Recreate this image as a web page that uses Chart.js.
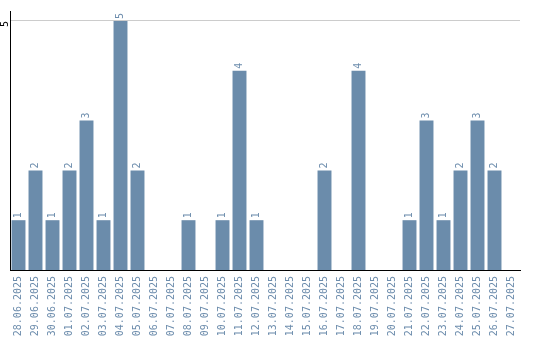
<!DOCTYPE html>
<html>
<head>
<meta charset="utf-8">
<script src="https://cdn.jsdelivr.net/npm/chart.js@4.4.1/dist/chart.umd.min.js"></script>
<style>
  body { margin: 0; background: #fff; }
</style>
</head>
<body>
<canvas id="myChart1" width="540" height="340"></canvas>
<script>
// days shown on the x axis
const dayLabels = [
    '28.06.2025', '29.06.2025', '30.06.2025', '01.07.2025', '02.07.2025',
    '03.07.2025', '04.07.2025', '05.07.2025', '06.07.2025', '07.07.2025',
    '08.07.2025', '09.07.2025', '10.07.2025', '11.07.2025', '12.07.2025',
    '13.07.2025', '14.07.2025', '15.07.2025', '16.07.2025', '17.07.2025',
    '18.07.2025', '19.07.2025', '20.07.2025', '21.07.2025', '22.07.2025',
    '23.07.2025', '24.07.2025', '25.07.2025', '26.07.2025', '27.07.2025'
];
// count per day
const dayCounts = [1, 2, 1, 2, 3, 1, 5, 2, 0, 0,
                   1, 0, 1, 4, 1, 0, 0, 0, 2, 0,
                   4, 0, 0, 1, 3, 1, 2, 3, 2, 0];
const yTicks = [5];

const barColor = 'rgb(107, 140, 171)';
const textColor = 'rgb(108, 140, 172)';
const fontFamily = '"DejaVu Sans Mono", monospace';

// writes the value above every bar, turned on its side
const valueLabels = {
    id: 'valueLabels',
    afterDatasetsDraw(chart) {
        let ctx = chart.ctx;
        let meta = chart.getDatasetMeta(0);
        ctx.save();
        ctx.font = '10px ' + fontFamily;
        ctx.fillStyle = textColor;
        ctx.textAlign = 'left';
        ctx.textBaseline = 'middle';
        meta.data.forEach(function (bar, i) {
            let v = dayCounts[i];
            if (!v) return;
            ctx.save();
            ctx.translate(bar.x, bar.y - 2);
            ctx.rotate(-Math.PI / 2);
            ctx.fillText(String(v), 0, 0);
            ctx.restore();
        });
        ctx.restore();
    }
};

const config = {
    type: 'bar',
    data: {
        labels: dayLabels,
        datasets: [{
            data: dayCounts,
            backgroundColor: barColor,
            borderWidth: 0,
            barPercentage: 0.82,
            categoryPercentage: 1
        }]
    },
    options: {
        responsive: false,
        animation: false,
        layout: { padding: { top: 10, right: 20, left: 0, bottom: 0 } },
        plugins: {
            legend: { display: false },
            tooltip: { enabled: false }
        },
        scales: {
            x: {
                grid: { display: false, drawTicks: false },
                border: { display: true, color: '#000', width: 1 },
                ticks: {
                    autoSkip: false,
                    minRotation: 90,
                    maxRotation: 90,
                    padding: 6,
                    color: textColor,
                    font: { family: fontFamily, size: 10 }
                },
                afterFit: function (axis) { axis.height = 70; }
            },
            y: {
                min: 0,
                max: 5.2,
                grid: {
                    color: function (c) { return c.tick && c.tick.value === 5 ? '#cccccc' : 'rgba(0,0,0,0)'; },
                    drawTicks: false
                },
                border: { display: true, color: '#000', width: 1 },
                ticks: {
                    minRotation: 90,
                    maxRotation: 90,
                    padding: 5,
                    color: '#000',
                    font: { family: fontFamily, size: 10 }
                },
                afterBuildTicks: function (axis) {
                    axis.ticks = yTicks.map(function (v) { return { value: v }; });
                },
                afterFit: function (axis) { axis.width = 10; }
            }
        }
    },
    plugins: [valueLabels]
};

let c = document.getElementById('myChart1').getContext('2d');
var curchart = new Chart(c, config);
</script>
</body>
</html>
